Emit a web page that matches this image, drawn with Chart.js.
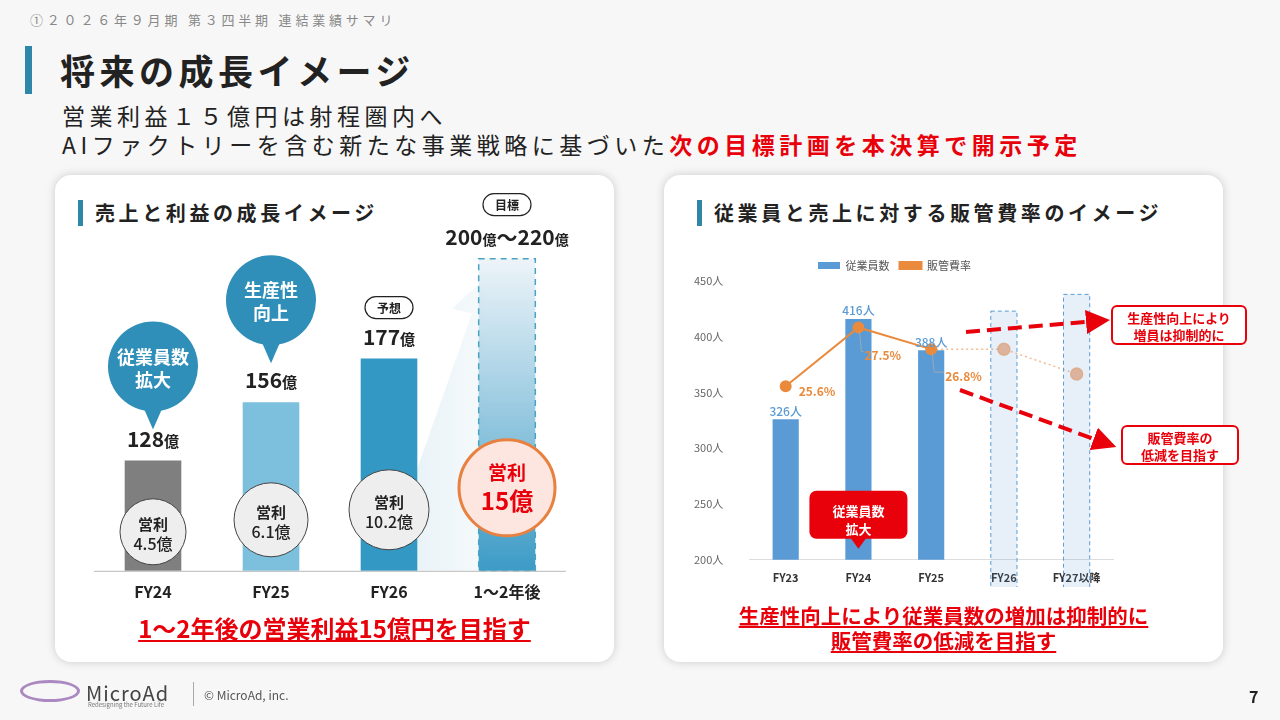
<!DOCTYPE html>
<html><head><meta charset="utf-8">
<script src="https://cdn.jsdelivr.net/npm/chart.js@4"></script>
<style>
*{margin:0;padding:0;box-sizing:border-box}
body{width:1280px;height:720px;background:#f7f7f7;font-family:"Noto Sans CJK JP","Noto Sans",sans-serif;position:relative;overflow:hidden;color:#222}
.abs{position:absolute}
.card{position:absolute;background:#fff;border-radius:16px;box-shadow:0 0 10px rgba(0,0,0,0.18)}
.h{position:absolute;font-weight:700;font-size:20px;letter-spacing:3.6px;border-left:5px solid #2e87a8;padding-left:12px;line-height:26px}
.redbox{position:absolute;border:2.5px solid #e8000b;border-radius:6px;background:#fff;color:#e8000b;font-weight:700;font-size:13px;text-align:center;line-height:17px}
.cap{position:absolute;color:#e8000b;font-weight:700;text-decoration:underline;text-align:center}
</style></head><body>
<div class="abs" style="left:30px;top:10px;font-size:13px;color:#888;letter-spacing:3.8px">①２０２６年９月期 第３四半期 連結業績サマリ</div>
<div class="abs" style="left:25px;top:46px;width:7px;height:48px;background:#2e87a8"></div>
<div class="abs" style="left:60px;top:44px;font-size:35px;font-weight:700;letter-spacing:4.5px">将来の成長イメージ</div>
<div class="abs" style="left:62px;top:101px;font-size:23px;line-height:29px;letter-spacing:4.5px">営業利益１５億円は射程圏内へ<br>AIファクトリーを含む新たな事業戦略に基づいた<span style="color:#e8000b;font-weight:700">次の目標計画を本決算で開示予定</span></div>

<div class="card" style="left:55px;top:175px;width:559px;height:487px"></div>
<div class="card" style="left:664px;top:175px;width:559px;height:487px"></div>
<div class="h" style="left:78px;top:200px">売上と利益の成長イメージ</div>
<div class="h" style="left:697px;top:200px">従業員と売上に対する販管費率のイメージ</div>

<div class="abs" style="left:70px;top:190px;width:520px;height:416px"><canvas id="c1"></canvas></div>
<div class="abs" style="left:676px;top:250px;width:445px;height:337px"><canvas id="c2"></canvas></div>

<svg class="abs" style="left:0;top:0" width="1280" height="720">
<defs><marker id="ah" markerWidth="6" markerHeight="6" refX="3" refY="3" orient="auto"><path d="M0,0 L6,3 L0,6 z" fill="#e8000b"/></marker></defs>
<line x1="966" y1="332" x2="1098" y2="321" stroke="#e8000b" stroke-width="4" stroke-dasharray="14,7" marker-end="url(#ah)"/>
<line x1="960" y1="390" x2="1105" y2="443" stroke="#e8000b" stroke-width="4" stroke-dasharray="14,7" marker-end="url(#ah)"/>
</svg>
<div class="redbox" style="left:1111px;top:305px;width:136px;height:40px;padding-top:2px">生産性向上により<br>増員は抑制的に</div>
<div class="redbox" style="left:1121px;top:425px;width:118px;height:40px;padding-top:2px">販管費率の<br>低減を目指す</div>

<div class="cap" style="left:55px;top:610px;width:559px;font-size:24px">1～2年後の営業利益15億円を目指す</div>
<div class="cap" style="left:664px;top:603px;width:559px;font-size:20.5px;line-height:25px">生産性向上により従業員数の増加は抑制的に<br>販管費率の低減を目指す</div>

<div class="abs" style="left:20px;top:680px;width:60px;height:22px;border:3px solid #8a5aa8;border-radius:50%;opacity:.7"></div>
<div class="abs" style="left:86px;top:678px;font-size:20px;color:#444;letter-spacing:1px">MicroAd</div>
<div class="abs" style="left:88px;top:700px;font-size:6px;color:#777">Redesigning the Future Life</div>
<div class="abs" style="left:193px;top:682px;height:24px;border-left:1px solid #aaa"></div>
<div class="abs" style="left:204px;top:686px;font-size:12px;color:#555">© MicroAd, inc.</div>
<div class="abs" style="left:1249px;top:684px;font-size:16px;font-weight:700">7</div>

<script>
const FONT='"Noto Sans CJK JP","Noto Sans",sans-serif';
// Left chart data
const leftCats=['FY24','FY25','FY26','1～2年後'];
const revenue=[128,156,177,225];
const revenueLabels=['128','156','177',''];
const profit=['4.5','6.1','10.2','15'];
// Right chart data
const rightCats=['FY23','FY24','FY25','FY26','FY27以降'];
const staff=[326,416,388,null,null];
const staffPlan=[null,null,null,423,438];
const sgaRate=[25.6,27.5,26.8,null,null];
const sgaPlan=[null,null,26.8,26.8,26.0];
const yTicks=[200,250,300,350,400,450];

function rr(ctx,x,y,w,h,r){ctx.beginPath();ctx.moveTo(x+r,y);ctx.arcTo(x+w,y,x+w,y+h,r);ctx.arcTo(x+w,y+h,x,y+h,r);ctx.arcTo(x,y+h,x,y,r);ctx.arcTo(x,y,x+w,y,r);ctx.closePath();}
function valText(ctx,x,y,num,big,small){ctx.font='700 '+big+'px '+FONT;const w1=ctx.measureText(num).width;ctx.font='700 '+small+'px '+FONT;const w2=ctx.measureText('億').width;let sx=x-(w1+w2)/2;ctx.textAlign='left';ctx.textBaseline='alphabetic';ctx.fillStyle='#222';ctx.font='700 '+big+'px '+FONT;ctx.fillText(num,sx,y);ctx.font='700 '+small+'px '+FONT;ctx.fillText('億',sx+w1,y);}

const leftPlugin={id:'lp',
beforeDatasetsDraw(c){const ctx=c.ctx,m=c.getDatasetMeta(0),b=m.data[3],a=c.chartArea,B=a.bottom;
 const f=m.data[2];ctx.save();const g=ctx.createLinearGradient(f.x,0,b.x,0);g.addColorStop(0,'rgba(200,225,235,0.5)');g.addColorStop(1,'rgba(230,240,246,0.3)');ctx.fillStyle=g;
 ctx.beginPath();ctx.moveTo(f.x+f.width/2,B);ctx.lineTo(f.x+f.width/2,f.y+110);ctx.lineTo(b.x-35,f.y-45);ctx.lineTo(b.x-55,f.y-50);ctx.lineTo(b.x-22,f.y-80);ctx.lineTo(b.x-20,B);ctx.closePath();ctx.fill();
 const g2=ctx.createLinearGradient(0,b.y,0,B);g2.addColorStop(0,'rgba(235,243,248,0.9)');g2.addColorStop(1,'rgba(50,150,195,0.95)');ctx.fillStyle=g2;ctx.fillRect(b.x-b.width/2,b.y,b.width,B-b.y);
 ctx.setLineDash([6,5]);ctx.strokeStyle='#4aa3c3';ctx.lineWidth=1.5;ctx.strokeRect(b.x-b.width/2,b.y,b.width,B-b.y);ctx.restore();},
afterDatasetsDraw(c){const ctx=c.ctx,m=c.getDatasetMeta(0),B=c.chartArea.bottom;ctx.save();
 ctx.strokeStyle='#bbb';ctx.lineWidth=1;ctx.beginPath();ctx.moveTo(c.chartArea.left,B+0.5);ctx.lineTo(c.chartArea.right,B+0.5);ctx.stroke();
 const rads=[33,37,40,48];const offs=[39,51,61,83];
 m.data.forEach((e,i)=>{
  if(revenueLabels[i])valText(ctx,e.x,e.y-14,revenueLabels[i],21,15);
  const cy=B-offs[i],r=rads[i];ctx.beginPath();ctx.arc(e.x,cy,r,0,Math.PI*2);
  if(i<3){ctx.fillStyle='#eeeeee';ctx.fill();ctx.strokeStyle='#444';ctx.lineWidth=1;ctx.stroke();ctx.fillStyle='#222';ctx.textAlign='center';ctx.font='700 15px '+FONT;ctx.fillText('営利',e.x,cy-2);ctx.font='500 16px '+FONT;ctx.fillText(profit[i]+'億',e.x,cy+18);}
  else{ctx.fillStyle='#fde6df';ctx.fill();ctx.strokeStyle='#e88040';ctx.lineWidth=3;ctx.stroke();ctx.fillStyle='#e8000b';ctx.textAlign='center';ctx.font='700 19px '+FONT;ctx.fillText('営利',e.x,cy-8);ctx.font='700 24px '+FONT;ctx.fillText(profit[i]+'億',e.x,cy+22);}
 });
 const bub=[[0,'従業員数','拡大'],[1,'生産性','向上']];const bh=[94,102];
 bub.forEach(([i,t1,t2],k)=>{const e=m.data[i];const cx=e.x,cy=e.y-bh[k];ctx.fillStyle='#2f8fb8';ctx.beginPath();ctx.arc(cx,cy,45,0,Math.PI*2);ctx.fill();ctx.beginPath();ctx.moveTo(cx-10,cy+40);ctx.lineTo(cx,cy+63);ctx.lineTo(cx+10,cy+40);ctx.fill();ctx.fillStyle='#fff';ctx.font='700 18px '+FONT;ctx.textAlign='center';ctx.fillText(t1,cx,cy-3);ctx.fillText(t2,cx,cy+20);});
 const f=m.data[2],t=m.data[3];
 function pill(x,y,txt){ctx.fillStyle='#fff';rr(ctx,x-24,y-11,48,22,11);ctx.fill();ctx.strokeStyle='#222';ctx.lineWidth=1.2;ctx.stroke();ctx.fillStyle='#222';ctx.font='700 12px '+FONT;ctx.textAlign='center';ctx.textBaseline='middle';ctx.fillText(txt,x,y+1);ctx.textBaseline='alphabetic';}
 pill(f.x,f.y-51,'予想');pill(t.x,t.y-54,'目標');
 ctx.textAlign='left';ctx.fillStyle='#222';
 const parts=[['200',21],['億',14],['～',21],['220',21],['億',14]];
 let tw=0;parts.forEach(p=>{ctx.font='700 '+p[1]+'px '+FONT;tw+=ctx.measureText(p[0]).width;});
 let sx=t.x-tw/2;parts.forEach(p=>{ctx.font='700 '+p[1]+'px '+FONT;ctx.fillText(p[0],sx,t.y-14);sx+=ctx.measureText(p[0]).width;});
 ctx.restore();}};

new Chart(document.getElementById('c1'),{type:'bar',
 data:{labels:leftCats,datasets:[{data:revenue,backgroundColor:['#7f7f7f','#7cc0dd','#3399c4','rgba(0,0,0,0)'],barPercentage:0.48,categoryPercentage:1}]},
 options:{responsive:true,maintainAspectRatio:false,animation:false,layout:{padding:{left:24,right:24,top:0,bottom:0}},
  plugins:{legend:{display:false},tooltip:{enabled:false}},
  scales:{y:{display:false,min:75,max:258},x:{grid:{display:false},border:{display:false},ticks:{color:'#222',font:{family:FONT,size:16,weight:'700'},padding:4}}}},
 plugins:[leftPlugin]});

const rightPlugin={id:'rp',
afterDatasetsDraw(c){const ctx=c.ctx;ctx.save();
 const m0=c.getDatasetMeta(0),m1=c.getDatasetMeta(1),m2=c.getDatasetMeta(2);
 m1.data.forEach((e,i)=>{if(staffPlan[i]==null)return;ctx.fillStyle='rgba(91,155,213,0.15)';ctx.fillRect(e.x-e.width/2,e.y,e.width,e.base-e.y);ctx.setLineDash([4,3]);ctx.strokeStyle='#5b9bd5';ctx.lineWidth=1;ctx.strokeRect(e.x-e.width/2,e.y,e.width,e.base-e.y);ctx.setLineDash([]);});
 ctx.font='500 12px '+FONT;ctx.textAlign='center';ctx.fillStyle='#5b9bd5';
 m0.data.forEach((e,i)=>{if(staff[i]!=null)ctx.fillText(staff[i]+'人',e.x,e.y-8);});
 ctx.fillStyle='#ea8a3c';ctx.font='600 12px '+FONT;ctx.textAlign='left';
 const lo=[[13,5],[6,28],[14,27]];
 m2.data.forEach((e,i)=>{if(sgaRate[i]==null)return;const [dx,dy]=lo[i];if(i>0){ctx.strokeStyle='#aaa';ctx.lineWidth=0.8;ctx.beginPath();ctx.moveTo(e.x+1,e.y+4);ctx.lineTo(e.x+3,e.y+dy-4);ctx.lineTo(e.x+dx-1,e.y+dy-4);ctx.stroke();}
  ctx.fillText(sgaRate[i].toFixed(1)+'%',e.x+dx,e.y+dy);});
 const e=m0.data[1];const bx=e.x-49,by=c.chartArea.bottom-69;ctx.fillStyle='#e8000b';rr(ctx,bx,by,98,48,7);ctx.fill();ctx.beginPath();ctx.moveTo(e.x-8,by+47);ctx.lineTo(e.x,by+58);ctx.lineTo(e.x+8,by+47);ctx.fill();
 ctx.fillStyle='#fff';ctx.font='700 13px '+FONT;ctx.textAlign='center';ctx.fillText('従業員数',e.x,by+20);ctx.fillText('拡大',e.x,by+38);
 ctx.restore();}};

new Chart(document.getElementById('c2'),{
 data:{labels:rightCats,datasets:[
  {type:'bar',label:'従業員数',data:staff,backgroundColor:'#5b9bd5',barPercentage:0.36,categoryPercentage:1,yAxisID:'y',order:3},
  {type:'bar',label:'plan',data:staffPlan,backgroundColor:'rgba(0,0,0,0)',barPercentage:0.36,categoryPercentage:1,yAxisID:'y',order:3},
  {type:'line',label:'販管費率',data:sgaRate,borderColor:'#ea8a3c',backgroundColor:'#ea8a3c',borderWidth:2,pointRadius:5,yAxisID:'y2',order:1},
  {type:'line',label:'p2',data:sgaPlan,borderColor:'rgba(240,170,120,0.8)',backgroundColor:'#f4b894',borderDash:[2,3],borderWidth:1.5,pointRadius:[0,0,0,6,6],yAxisID:'y2',order:2}]},
 options:{responsive:true,maintainAspectRatio:false,animation:false,layout:{padding:{left:0,right:8}},
  datasets:{bar:{grouped:false}},
  plugins:{tooltip:{enabled:false},legend:{position:'top',labels:{filter:i=>i.text==='従業員数'||i.text==='販管費率',sort:(a,b)=>a.datasetIndex-b.datasetIndex,boxWidth:22,boxHeight:7,color:'#555',font:{family:FONT,size:11}}}},
  scales:{
   y:{min:200,max:450,afterBuildTicks:s=>{s.ticks=yTicks.map(v=>({value:v}));},grid:{display:false},border:{display:false},ticks:{color:'#666',font:{family:FONT,size:11},callback:v=>v+'人',padding:18}},
   y2:{display:false,min:20,max:29,position:'right'},
   x:{grid:{display:false},border:{color:'#ddd'},ticks:{color:'#333',font:{family:FONT,size:11,weight:'600'}}}}},
 plugins:[rightPlugin]});
</script>
</body></html>
